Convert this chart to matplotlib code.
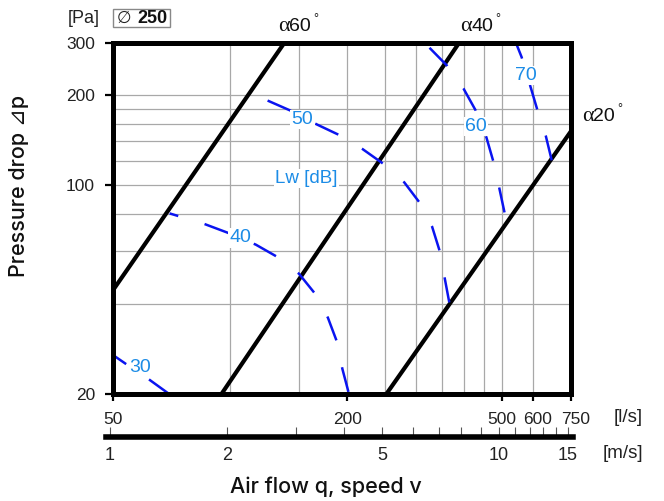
import matplotlib
matplotlib.use("Agg")
import matplotlib.pyplot as plt
from matplotlib.ticker import FixedLocator, FixedFormatter, NullFormatter
from matplotlib.patches import Rectangle
from matplotlib.transforms import ScaledTranslation

# ---------------- data ----------------
q_ticks = [50, 200, 500, 600, 750]
q_tick_labels = ["50", "200", "500", "600", "750"]
p_ticks = [20, 100, 200, 300]
p_tick_labels = ["20", "100", "200", "300"]
v_major = [1, 2, 5, 10, 15]
v_major_labels = ["1", "2", "5", "10", "15"]
v_minor = [3, 4, 6, 7, 8, 9, 11, 12, 13, 14]
q_grid = [100, 150, 200, 250, 300, 350, 400, 450, 500, 600]
p_grid = [40, 60, 80, 100, 120, 140, 160, 180, 200]

# damper-angle lines (q [l/s], dp [Pa])
angle_names = ["60", "40", "20"]
a60_q = [50, 138]
a60_p = [44.5, 300]
a40_q = [95, 388]
a40_p = [20, 300]
a20_q = [252, 750]
a20_p = [20, 151]

# sound power level curves Lw [dB]
lw30_q = [50, 54.0, 61.8, 69.7]
lw30_p = [27.0, 25.2, 22.4, 20]
lw40_q = [69.9, 85.9, 99.7, 116.4, 131.9, 150.3, 165.3, 178.3, 188.5, 194.2, 202]
lw40_p = [80.4, 74.1, 68.9, 63.2, 57.6, 50.5, 43.3, 36.0, 29.7, 24.3, 20]
lw50_q = [124.8, 142.8, 167.3, 190.4, 218.7, 247.8, 280.2, 306.5, 330.3, 346.4, 355.6, 366.3]
lw50_p = [191.8, 177.6, 159.4, 147.2, 132.1, 117.7, 102.1, 87.5, 72.6, 59.5, 49.1, 40.0]
lw60_q = [325.3, 360.4, 398.1, 427.6, 455.4, 473.9, 491.1, 508]
lw60_p = [288, 251.4, 210, 177.6, 144.5, 120.7, 98.3, 80]
lw70_q = [542, 561, 593.4, 615.7, 647, 670.7]
lw70_p = [300, 268, 210, 178.5, 146.4, 120.7]

lw_labels = ["30", "40", "50", "60", "70"]
lw_label_q = [58.8, 106.3, 153.4, 427.6, 575]
lw_label_p = [24.5, 66.6, 165.6, 157, 233]

# ---------------- style ----------------
W, H = 664, 501
NUM_FONT = "Liberation Sans"
TITLE_FONT = ["Inter", "DejaVu Sans"]
BLUE = "#0a14f0"
LBLUE = "#1c8ce6"
GRID = "#a8a8a8"
TXT = "#222222"


def fx(px):
    return px / W


def fy(py):
    return 1 - py / H


fig = plt.figure(figsize=(W / 100, H / 100), dpi=100)

L, R, T, B = 113, 570.7, 42.5, 394
ax = fig.add_axes([fx(L), fy(B), (R - L) / W, (B - T) / H])
ax.set_xscale("log")
ax.set_yscale("log")
ax.set_xlim(50, 750)
ax.set_ylim(20, 300)

for q in q_grid:
    ax.axvline(q, color=GRID, lw=0.9, zorder=1)
for p in p_grid:
    ax.axhline(p, color=GRID, lw=0.9, zorder=1)

for qs, ps in [(a60_q, a60_p), (a40_q, a40_p), (a20_q, a20_p)]:
    ax.plot(qs, ps, color="black", lw=3.0, solid_capstyle="butt", zorder=3)

lw_blue = 1.8
on, off = 10.2, 11.0
curves = [(lw30_q, lw30_p, 3.8), (lw40_q, lw40_p, 6.6), (lw50_q, lw50_p, 0.0),
          (lw60_q, lw60_p, 0.0), (lw70_q, lw70_p, 3.3)]
for qs, ps, off0 in curves:
    ax.plot(qs, ps, color=BLUE, lw=lw_blue, linestyle=(off0, (on, off)),
            dash_capstyle="butt", zorder=4)

for t, q, p in zip(lw_labels, lw_label_q, lw_label_p):
    ax.text(q, p, t, color=LBLUE, fontsize=14, family=NUM_FONT, ha="center", va="center",
            zorder=5, bbox=dict(facecolor="white", edgecolor="none", pad=0.8))
ax.text(157.2, 105.4, "Lw [dB]", color=LBLUE, fontsize=13.5, family=NUM_FONT,
        ha="center", va="center", zorder=5,
        bbox=dict(facecolor="white", edgecolor="none", pad=0.8))

for s in ax.spines.values():
    s.set_linewidth(3.6)
    s.set_color("black")
    s.set_zorder(6)

ax.xaxis.set_major_locator(FixedLocator(q_ticks))
ax.xaxis.set_major_formatter(FixedFormatter(q_tick_labels))
ax.xaxis.set_minor_locator(FixedLocator([]))
ax.xaxis.set_minor_formatter(NullFormatter())
ax.yaxis.set_major_locator(FixedLocator(p_ticks))
ax.yaxis.set_major_formatter(FixedFormatter(p_tick_labels))
ax.yaxis.set_minor_locator(FixedLocator([]))
ax.yaxis.set_minor_formatter(NullFormatter())
ax.tick_params(axis="x", direction="out", length=5, width=1.6, pad=8,
               labelsize=12.5, labelcolor=TXT)
ax.tick_params(axis="y", direction="out", length=6, width=1.6, pad=7,
               labelsize=12.5, labelcolor=TXT)
for lab in ax.get_xticklabels() + ax.get_yticklabels():
    lab.set_family(NUM_FONT)

# nudge the crowded right-hand flow labels as in the original print
shifts_px = {"600": 5, "750": 5}
for lab in ax.get_xticklabels():
    dx = shifts_px.get(lab.get_text(), 0)
    if dx:
        lab.set_transform(lab.get_transform() + ScaledTranslation(dx / 100, 0, fig.dpi_scale_trans))

# speed axis
SL, SR, SY = 106, 573, 437.3
ax2 = fig.add_axes([fx(SL), fy(SY), (SR - SL) / W, 0.0005])
ax2.set_xscale("log")
ax2.set_xlim(0.977, 15.49)
ax2.set_yticks([])
for k in ["top", "left", "right"]:
    ax2.spines[k].set_visible(False)
ax2.spines["bottom"].set_linewidth(4)
ax2.patch.set_visible(False)
ax2.xaxis.set_major_locator(FixedLocator(v_major))
ax2.xaxis.set_major_formatter(FixedFormatter(v_major_labels))
ax2.xaxis.set_minor_locator(FixedLocator(v_minor))
ax2.xaxis.set_minor_formatter(NullFormatter())
ax2.tick_params(axis="x", which="both", direction="in", length=7, width=0.8,
                color="#555555", pad=7, labelsize=13, labelcolor=TXT)
for lab in ax2.get_xticklabels():
    lab.set_family(NUM_FONT)

# unit labels
fig.text(fx(643), fy(418), "[l/s]", ha="right", va="center", fontsize=13.5,
         family=NUM_FONT, color=TXT)
fig.text(fx(643), fy(454), "[m/s]", ha="right", va="center", fontsize=13.5,
         family=NUM_FONT, color=TXT)
fig.text(fx(100), fy(18.3), "[Pa]", ha="right", va="center", fontsize=13,
         family=NUM_FONT, color=TXT)
fig.text(fx(117), fy(18.3), "\u2205", ha="left", va="center", fontsize=12,
         family=["DejaVu Sans"], color=TXT)
fig.text(fx(168), fy(18.3), "250", ha="right", va="center", fontsize=13,
         family=NUM_FONT, weight="bold", color="#111111")
fig.patches.append(Rectangle((fx(113.3), fy(26.7)), (170 - 113.3) / W, (26.7 - 9.3) / H,
                             transform=fig.transFigure, fill=False,
                             edgecolor="#888888", lw=1.0))


# angle labels
def angle_label(x, y, num):
    fig.text(fx(x), fy(y), "\u03b1", ha="left", va="center", fontsize=16,
             family="Liberation Serif", color="#111111")
    fig.text(fx(x + 11.5), fy(y), num, ha="left", va="center", fontsize=14,
             family=NUM_FONT, color="#111111")
    fig.text(fx(x + 35), fy(y - 8), "\u00b0", ha="left", va="center", fontsize=9,
             family=NUM_FONT, color="#111111")


angle_label(278, 26.7, angle_names[0])
angle_label(460, 26.7, angle_names[1])
angle_label(582, 116.7, angle_names[2])

fig.text(fx(326), fy(487), "Air flow q, speed v", ha="center", va="center",
         fontsize=15.5, family=TITLE_FONT, weight="medium", color="#111111")
fig.text(fx(19), fy(186), "Pressure drop \u22bfp", ha="center", va="center",
         rotation=90, fontsize=15.5, family=TITLE_FONT, weight="medium", color="#111111")

fig.savefig("out.png", dpi=100)
